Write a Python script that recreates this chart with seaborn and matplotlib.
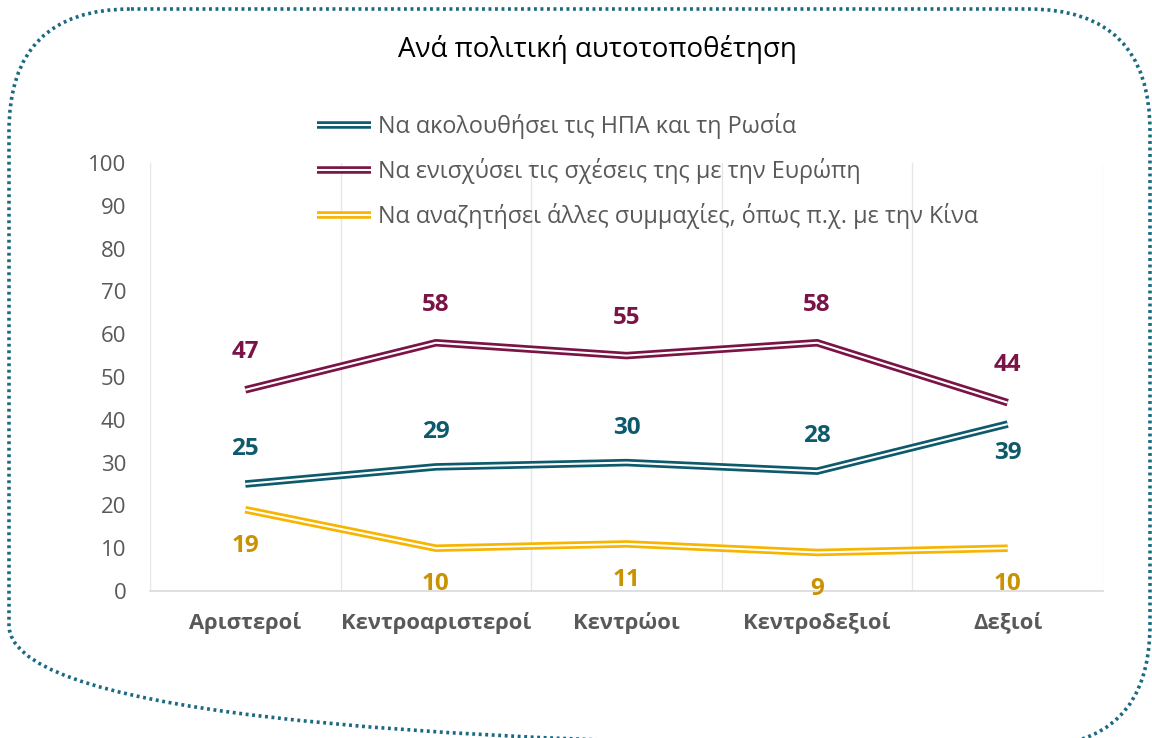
import numpy as np
import pandas as pd
import seaborn as sns
from matplotlib import pyplot as plt
from matplotlib.patches import FancyBboxPatch
from matplotlib.lines import Line2D
import matplotlib.patheffects as pe

# data
categories = ['Αριστεροί', 'Κεντροαριστεροί', 'Κεντρώοι', 'Κεντροδεξιοί', 'Δεξιοί']
usa_russia = [25, 29, 30, 28, 39]
europe = [47, 58, 55, 58, 44]
other = [19, 10, 11, 9, 10]
series_names = ['Να ακολουθήσει τις ΗΠΑ και τη Ρωσία',
                'Να ενισχύσει τις σχέσεις της με την Ευρώπη',
                'Να αναζητήσει άλλες συμμαχίες, όπως π.χ. με την Κίνα']

line_colors = ['#0e5a6d', '#7a1446', '#f7b500']
label_colors = ['#0e5a6d', '#7a1446', '#c99200']
# label offset in points: + above, - below
offsets = [[25, 25, 25, 25, -21], [27, 27, 27, 27, 27], [-26, -26, -26, -26, -26]]

df = pd.DataFrame({'cat': categories, 'usa': usa_russia, 'eu': europe, 'other': other})
df['pos'] = np.arange(len(categories))

sns.set_theme(style='white')
plt.rcParams['font.family'] = ['Open Sans', 'DejaVu Sans']

fig = plt.figure(figsize=(11.52, 7.38), dpi=100)

# rounded dotted frame, drawn in pixel units
bg = fig.add_axes([0, 0, 1, 1])
bg.set_xlim(0, 1152)
bg.set_ylim(738, 0)
bg.axis('off')
frame = FancyBboxPatch((9, 9), 1141, 738, boxstyle='round,pad=0,rounding_size=122',
                       fill=False, edgecolor='#1b6a82', linewidth=2.6,
                       linestyle=(0, (0.8, 1.0)))
bg.add_patch(frame)

ax = fig.add_axes([150 / 1152, 1 - 591 / 738, 953 / 1152, 428 / 738])
ax.patch.set_alpha(0)

cols = ['usa', 'eu', 'other']
for i, c in enumerate(cols):
    sns.lineplot(data=df, x='pos', y=c, ax=ax, color='white', linewidth=1.5,
                 solid_capstyle='butt', solid_joinstyle='miter',
                 path_effects=[pe.Stroke(linewidth=5.4, foreground=line_colors[i]), pe.Normal()],
                 zorder=3)
    for x, y, off in zip(df['pos'], df[c], offsets[i]):
        ax.annotate(str(y), (x, y), xytext=(0, off), textcoords='offset points',
                    ha='center', va='center', fontsize=17.5, fontweight='bold',
                    color=label_colors[i])

ax.set_xlim(-0.5, len(categories) - 0.5)
ax.set_ylim(0, 100)
ax.set_yticks(range(0, 101, 10))
ax.set_xticks(df['pos'])
ax.set_xticklabels(categories, fontsize=15.8, fontweight='bold', color='#595959')
ax.tick_params(axis='y', labelsize=16, labelcolor='#595959', pad=17, length=0)
ax.tick_params(axis='x', pad=15, length=0)
ax.set_xlabel('')
ax.set_ylabel('')
for b in np.arange(-0.5, len(categories), 1.0):
    ax.axvline(b, color='#e6e6e6', linewidth=1, zorder=0)
for s in ['top', 'right', 'left']:
    ax.spines[s].set_visible(False)
ax.spines['bottom'].set_color('#d9d9d9')
ax.spines['bottom'].set_linewidth(1.2)

handles = [Line2D([0], [0], color='white', linewidth=1.5, solid_capstyle='butt',
                  path_effects=[pe.Stroke(linewidth=5.4, foreground=col), pe.Normal()])
           for col in line_colors]
leg = fig.legend(handles, series_names, loc='upper left', bbox_to_anchor=(296 / 1152, 1 - 92 / 738),
                 frameon=False, fontsize=16.8, handlelength=2.3, handletextpad=0.3,
                 labelspacing=0.82, labelcolor='#595959')

fig.text(597 / 1152, 1 - 50 / 738, 'Ανά πολιτική αυτοτοποθέτηση', ha='center', va='center',
         fontsize=20, color='black')

fig.savefig('out.png', dpi=100)
